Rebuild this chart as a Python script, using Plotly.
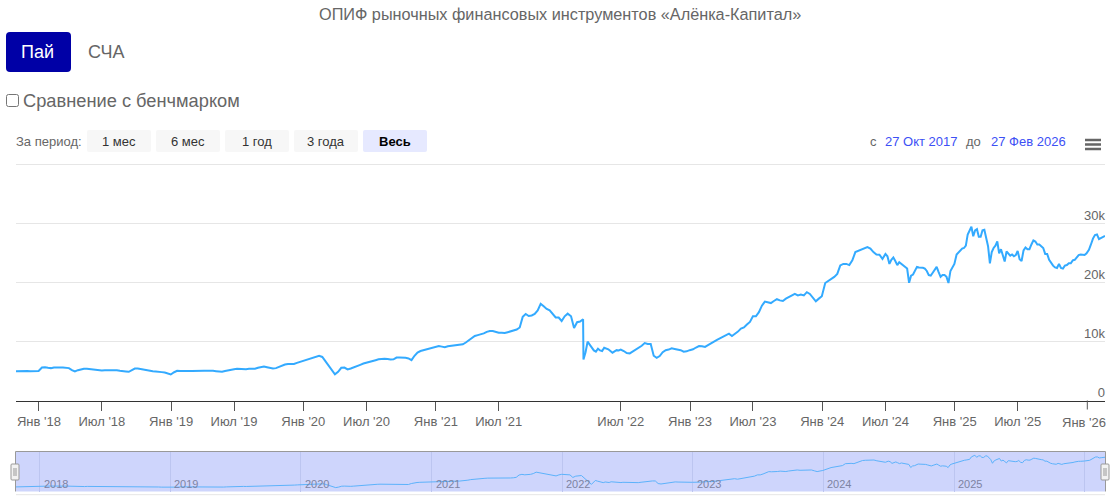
import pandas as pd
import plotly.graph_objects as go

W, H = 1113, 496

# tick dates of the main axis and their labels
tick_dates = ["2018-01-15", "2018-07-01", "2019-01-15", "2019-07-01", "2020-01-15", "2020-07-01",
              "2021-01-15", "2021-07-01", "2022-07-01", "2023-01-15", "2023-07-01", "2024-01-15",
              "2024-07-01", "2025-01-15", "2025-07-01", "2026-01-11"]
tick_labels = ["Янв '18", "Июл '18", "Янв '19", "Июл '19", "Янв '20", "Июл '20",
               "Янв '21", "Июл '21", "Июл '22", "Янв '23", "Июл '23", "Янв '24",
               "Июл '24", "Янв '25", "Июл '25", "Янв '26"]
y_ticks = [0, 10, 20, 30, 40]
y_labels = ["0", "10k", "20k", "30k", " "]
nav_years = [2018, 2019, 2020, 2021, 2022, 2023, 2024, 2025]

# unit price in thousands, one list per stretch of time
v_2017 = [5.0, 4.98, 5.04, 5.0, 4.95, 4.98, 5.04, 5.02]
v_2018h1 = [5.6, 5.66, 5.55, 5.5, 5.6, 5.55, 5.6, 5.6, 5.55, 5.5, 5.15, 4.93, 5.15, 5.27, 5.38,
            5.38, 5.32, 5.27, 5.15, 5.1, 5.1]
v_2018h2 = [5.15, 5.15, 5.2, 5.27, 5.15, 5.04, 5.04, 4.93, 4.87, 5.15, 5.43, 5.43, 5.32, 5.27, 5.1,
            5.04, 4.98, 4.93, 4.93, 4.82, 4.75, 4.55, 4.42]
v_2019h1 = [4.8, 5.04, 5.0, 5.04, 5.04, 5.0, 5.0, 5.04, 5.0, 5.04, 5.04, 5.04, 5.1, 5.04, 4.98,
            4.93, 4.87, 5.0, 5.15, 5.27, 5.32]
v_2019h2 = [5.38, 5.32, 5.38, 5.32, 5.38, 5.32, 5.38, 5.55, 5.72, 5.78, 5.66, 5.5, 5.43, 5.5, 5.72,
            5.94, 6.1, 6.2, 6.2, 6.2, 6.4, 6.55, 6.7]
v_2020h1 = [6.95, 7.07, 7.3, 7.4, 7.58, 7.4, 6.7, 5.99, 5.27, 4.45, 4.87, 5.55, 5.6, 5.27, 5.43,
            5.6, 5.85, 6.06, 6.28, 6.4]
v_2020h2 = [6.5, 6.65, 6.85, 7.0, 7.1, 7.1, 7.05, 6.95, 7.0, 7.3, 7.3, 7.3, 7.25, 7.15, 6.85,
            7.6, 8.15, 8.4, 8.55, 8.65, 8.75, 8.9, 9.1]
v_2021h1 = [9.25, 9.15, 9.05, 9.2, 9.25, 9.4, 9.45, 9.5, 9.55, 9.85, 10.2, 10.65, 10.95, 11.1, 11.2,
            11.4, 11.65, 11.8, 11.8, 11.65, 11.5]
v_2021h2 = [11.5, 11.45, 11.6, 11.75, 11.9, 12.05, 12.4, 14.2, 14.7, 14.35, 14.45, 14.7, 15.3, 16.4,
            16.0, 15.55, 15.3, 14.6, 14.1, 14.1, 13.5, 14.3, 14.75]
v_2022jan = [14.3, 12.3, 13.3, 13.4, 13.8]
v_2022reopen = 6.96
v_2022q2 = [8.2, 10.0, 9.5, 8.95, 8.5, 8.3, 8.8, 8.5, 8.4, 8.95, 8.85, 8.7, 8.4, 8.1, 8.35, 8.55,
            8.5, 8.65]
v_2022h2 = [8.4, 8.05, 8.0, 8.3, 8.6, 8.9, 9.3, 9.75, 9.6, 9.6, 7.6, 7.25, 7.55, 8.2, 8.55, 8.65,
            8.85, 8.75, 8.65, 8.55, 8.3, 8.35, 8.55]
v_2023h1 = [8.7, 9.0, 9.25, 9.2, 9.1, 9.4, 9.65, 10.0, 10.3, 10.55, 10.85, 11.1, 11.35, 10.95, 11.3,
            11.7, 12.2, 12.4, 12.9, 13.35, 14.3]
v_2023h2 = [14.3, 15.0, 16.1, 16.8, 16.7, 16.55, 16.9, 17.2, 17.0, 16.9, 17.3, 17.6, 17.85, 18.1,
            17.85, 18.0, 17.85, 18.4, 18.1, 17.45, 16.85, 17.3, 17.7]
v_2024h1 = [19.95, 20.25, 20.6, 21.0, 21.5, 22.95, 23.2, 23.2, 23.0, 23.8, 25.2, 25.4, 25.6, 25.85,
            26.05, 25.8, 25.2, 24.8, 24.75, 24.05, 24.9]
v_2024h2 = [24.5, 23.2, 23.9, 24.3, 23.7, 23.0, 23.5, 23.2, 22.9, 22.7, 22.4, 20.0, 21.2, 21.4, 22.2,
            22.7, 22.6, 22.6, 22.55, 22.4, 22.0, 21.3, 21.2, 21.7, 22.3, 22.7, 21.8, 21.0, 21.3, 21.3,
            21.0, 19.95, 22.0, 22.7, 23.2]
v_2025h1 = [24.8, 25.2, 25.6, 25.8, 25.9, 26.3, 28.2, 28.9, 29.5, 27.9, 28.9, 29.1, 27.8, 27.8, 28.9,
            29.0, 27.5, 26.2, 23.3, 25.2, 25.9, 26.3, 27.0, 25.0, 25.7, 24.6, 23.6, 25.3, 25.0, 24.6,
            24.8, 24.5, 24.7, 25.4]
v_2025h2 = [24.0, 23.7, 25.5, 26.0, 25.7, 25.7, 26.5, 27.2, 27.0, 26.5, 26.5, 26.1, 25.9, 24.9, 24.9,
            23.9, 23.3, 22.9, 22.6, 22.5, 23.2, 22.5, 22.4, 22.9, 23.0, 23.3, 23.3, 23.8, 23.9, 24.3,
            24.7, 24.8, 24.8, 24.7, 25.0]
v_2026 = [25.6, 26.5, 27.5, 28.1, 28.2, 27.4, 27.6, 27.8, 27.95]

# dates of each stretch: (from, to, values)
stretches = [
    ("2017-10-27", "2017-12-26", v_2017),
    ("2018-01-15", "2018-07-01", v_2018h1),
    ("2018-07-01", "2018-12-31", v_2018h2),
    ("2019-01-15", "2019-07-01", v_2019h1),
    ("2019-07-01", "2019-12-31", v_2019h2),
    ("2020-01-15", "2020-07-01", v_2020h1),
    ("2020-07-01", "2020-12-31", v_2020h2),
    ("2021-01-15", "2021-07-01", v_2021h1),
    ("2021-07-01", "2021-12-31", v_2021h2),
    ("2022-01-15", "2022-02-24", v_2022jan),
    ("2022-03-24", "2022-07-01", v_2022q2),
    ("2022-07-01", "2022-12-31", v_2022h2),
    ("2023-01-15", "2023-07-01", v_2023h1),
    ("2023-07-01", "2023-12-31", v_2023h2),
    ("2024-01-15", "2024-07-01", v_2024h1),
    ("2024-07-01", "2024-12-31", v_2024h2),
    ("2025-01-15", "2025-07-01", v_2025h1),
    ("2025-07-01", "2025-12-31", v_2025h2),
    ("2026-01-10", "2026-02-27", v_2026),
]

dates, values = [], []
for start, end, vals in stretches:
    if start == "2022-03-24":
        dates.append(pd.Timestamp(start))
        values.append(v_2022reopen)
    dates += list(pd.date_range(start, end, periods=len(vals) + 1)[1:])
    values += vals
# first point of the whole series
dates.insert(0, pd.Timestamp("2017-10-27"))
values.insert(0, 4.98)

# market holidays and the 2022 closure have no trading days, the axis skips them
breaks = [
    dict(bounds=["2017-12-27", "2018-01-15"]),
    dict(bounds=["2019-01-01", "2019-01-15"]),
    dict(bounds=["2020-01-01", "2020-01-15"]),
    dict(bounds=["2021-01-01", "2021-01-15"]),
    dict(bounds=["2022-01-01", "2022-01-15"]),
    dict(bounds=["2022-02-25", "2022-03-24"]),
    dict(bounds=["2023-01-01", "2023-01-15"]),
    dict(bounds=["2024-01-01", "2024-01-15"]),
    dict(bounds=["2025-01-01", "2025-01-15"]),
    dict(bounds=["2026-01-01", "2026-01-10"]),
]


def px(x):
    return x / W


def py(y):
    return 1 - y / H


fig = go.Figure()
fig.add_trace(go.Scatter(x=dates, y=values, mode="lines", line=dict(color="#33aaff", width=2),
                         xaxis="x", yaxis="y", hoverinfo="skip"))
fig.add_trace(go.Scatter(x=dates, y=values, mode="lines", line=dict(color="#5cb2fb", width=1),
                         xaxis="x2", yaxis="y2", hoverinfo="skip"))

shapes = []


def box(x0, y0, x1, y1, fill, line=None, layer="above", r=0):
    if r:
        path = (f"M {px(x0 + r)} {py(y0)} L {px(x1 - r)} {py(y0)} Q {px(x1)} {py(y0)} {px(x1)} {py(y0 + r)} "
                f"L {px(x1)} {py(y1 - r)} Q {px(x1)} {py(y1)} {px(x1 - r)} {py(y1)} "
                f"L {px(x0 + r)} {py(y1)} Q {px(x0)} {py(y1)} {px(x0)} {py(y1 - r)} "
                f"L {px(x0)} {py(y0 + r)} Q {px(x0)} {py(y0)} {px(x0 + r)} {py(y0)} Z")
        shapes.append(dict(type="path", path=path, xref="paper", yref="paper", fillcolor=fill, layer=layer,
                           line=dict(color=line or fill, width=1 if line else 0)))
    else:
        shapes.append(dict(type="rect", x0=px(x0), x1=px(x1), y0=py(y0), y1=py(y1), xref="paper", yref="paper",
                           fillcolor=fill, layer=layer, line=dict(color=line or fill, width=1 if line else 0)))


def rule(x0, y0, x1, y1, color, width=1):
    shapes.append(dict(type="line", x0=px(x0), x1=px(x1), y0=py(y0), y1=py(y1), xref="paper", yref="paper",
                       line=dict(color=color, width=width)))


annotations = []


def label(x, y, text, size=13, color="#666666", anchor="center", bold=False):
    if bold:
        text = f"<b>{text}</b>"
    annotations.append(dict(x=px(x), y=py(y), xref="paper", yref="paper", text=text, showarrow=False,
                            xanchor=anchor, yanchor="middle", font=dict(size=size, color=color),
                            borderpad=0, borderwidth=0))


# header
label(560, 14.5, "ОПИФ рыночных финансовых инструментов «Алёнка-Капитал»", size=16.25)
box(6, 32, 71, 72, "#0000a6", r=4)
label(37.5, 52, "Пай", size=18, color="#ffffff")
label(106, 52, "СЧА", size=18)
box(6.5, 94.5, 18.5, 106.5, "#ffffff", line="#767676", r=2)
label(23, 100.5, "Сравнение с бенчмарком", size=18.25, anchor="left")

# period buttons
label(16, 141.5, "За период:", anchor="left")
period_labels = ["1 мес", "6 мес", "1 год", "3 года", "Весь"]
period_left = [87, 156, 225, 294, 363]
for left, text in zip(period_left, period_labels):
    active = text == "Весь"
    box(left, 130, left + 64, 152, "#e6e9ff" if active else "#f7f7f7", r=2)
    label(left + 32, 141.5, text, color="#000000" if active else "#333333", bold=active)

# date range
label(873, 141, "с")
label(921.5, 141, "27 Окт 2017", color="#3d50f5")
label(973, 141, "до")
label(1028, 141, "27 Фев 2026", color="#3d50f5")

# export menu icon
for y in (140, 144.5, 149):
    rule(1085, y, 1101, y, "#666666", width=2.5)

# plotly drops the last array tick here, so the Jan '26 tick is added by hand on the same axis
shapes.append(dict(type="line", x0=tick_dates[-1], x1=tick_dates[-1], y0=py(400.5), y1=py(409.5),
                   xref="x", yref="paper", line=dict(color="#555555", width=1)))
annotations.append(dict(x=tick_dates[-1], y=py(422), xref="x", yref="paper", text=tick_labels[-1], showarrow=False,
                        xanchor="center", xshift=-3, yanchor="middle", font=dict(size=13, color="#666666")))

# navigator
box(16, 452, 1105, 491.5, "#ced5fc", layer="below")
rule(15.5, 451.5, 1105.5, 451.5, "#999999")
rule(15.5, 451.5, 15.5, 491.5, "#999999")
rule(1105.5, 451.5, 1105.5, 491.5, "#999999")
rule(16, 494.7, 1105, 494.7, "#e6e6e6")
for x0 in (11, 1101):
    box(x0, 464, x0 + 8, 480, "#f2f2f2", line="#999999", r=1)
    rule(x0 + 3, 468, x0 + 3, 476, "#999999")
    rule(x0 + 5, 468, x0 + 5, 476, "#999999")
for year in nav_years:
    annotations.append(dict(x=f"{year}-01-01", y=py(484), xref="x2", yref="paper", text=str(year), showarrow=False,
                            xanchor="left", xshift=2, yanchor="middle", font=dict(size=11, color="#7d83a3")))

fig.update_layout(
    width=W, height=H, margin=dict(l=0, r=0, t=0, b=0, pad=0, autoexpand=False),
    paper_bgcolor="#ffffff", plot_bgcolor="rgba(0,0,0,0)", showlegend=False, hovermode=False,
    font=dict(family="Liberation Sans, Arial, sans-serif", color="#666666"),
    shapes=shapes, annotations=annotations,
    xaxis=dict(domain=[px(16), px(1105)], anchor="y", type="date", range=["2017-10-27", "2026-02-27"],
               rangebreaks=breaks, tickmode="array", tickvals=tick_dates[:-1], ticktext=tick_labels[:-1],
               ticks="outside", ticklen=9, tickwidth=1, tickcolor="#555555", showgrid=False, zeroline=False,
               showline=True, linecolor="#333333", linewidth=1, ticklabeloverflow="allow",
               tickfont=dict(size=13, color="#666666")),
    yaxis=dict(domain=[py(400.5), py(162.5)], anchor="x", range=[0, 40.42], tickmode="array", tickvals=y_ticks,
               ticktext=y_labels, side="right", ticklabelposition="inside top", showgrid=True,
               ticklabelstandoff=-3, ticklabelshift=1,
               gridcolor="#e6e6e6", gridwidth=1, zeroline=False, showline=False, ticks="",
               tickfont=dict(size=13, color="#666666")),
    xaxis2=dict(domain=[px(16), px(1105)], anchor="y2", type="date", range=["2017-10-27", "2026-02-27"],
                tickmode="array", tickvals=[f"{y}-01-01" for y in nav_years + [2026]], showticklabels=False,
                ticks="", showgrid=True, gridcolor="#bcc5f0", gridwidth=1, zeroline=False, showline=False),
    yaxis2=dict(domain=[py(491.5), py(452)], anchor="x2", range=[1.44, 32], showticklabels=False,
                showgrid=False, zeroline=False, showline=False, ticks=""),
)

fig.write_html("out.html", config=dict(displayModeBar=False), post_script="document.body.style.margin='0';")
